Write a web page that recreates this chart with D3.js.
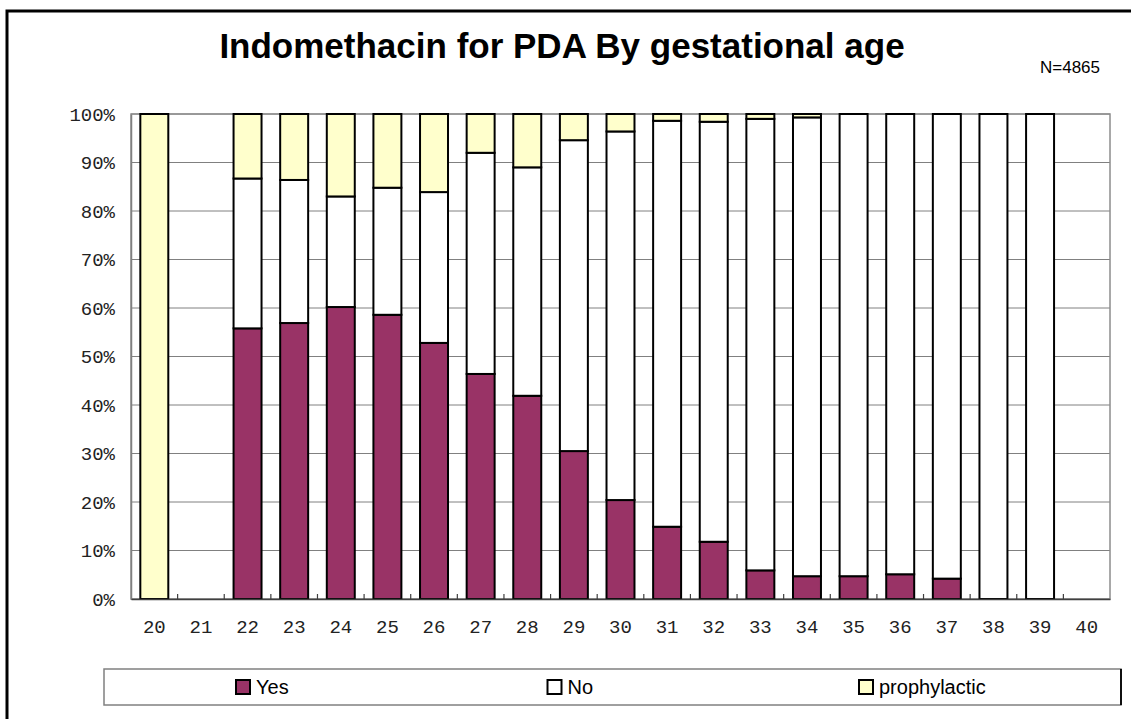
<!DOCTYPE html>
<html>
<head>
<meta charset="utf-8">
<script src="https://cdn.jsdelivr.net/npm/d3@7"></script>
<style>
  body { margin: 0; background: #fff; }
  svg { display: block; }
</style>
</head>
<body>
<svg id="chart" width="1131" height="719"></svg>
<script>
// Gestational age (weeks) on the category axis
const ages = ["20","21","22","23","24","25","26","27","28","29","30",
              "31","32","33","34","35","36","37","38","39","40"];

// Share of infants per outcome, in percent (null = no infants at that age)
const yesPct = [0, null, 55.8, 56.9, 60.2, 58.6, 52.8, 46.4, 41.9, 30.5, 20.4,
                14.9, 11.8, 5.9, 4.7, 4.7, 5.1, 4.2, 0, 0, null];
const noPct = [0, null, 30.9, 29.5, 22.8, 26.2, 31.1, 45.6, 47.1, 64.1, 76.0,
               83.7, 86.6, 93.1, 94.6, 95.3, 94.9, 95.8, 100, 100, null];
const prophylacticPct = [100, null, 13.3, 13.6, 17.0, 15.2, 16.1, 8.0, 11.0, 5.4, 3.6,
                         1.4, 1.6, 1.0, 0.7, 0, 0, 0, 0, 0, null];

const seriesNames = ["Yes", "No", "prophylactic"];
const seriesColors = ["#993366", "#FFFFFF", "#FFFFCC"];
const yTicks = [0, 10, 20, 30, 40, 50, 60, 70, 80, 90, 100];

const titleText = "Indomethacin for PDA By gestational age";
const countText = "N=4865";

// Rows for the stack layout; ages with no data are left out of the bars
const rows = ages.map((age, i) => ({
  age,
  present: yesPct[i] !== null,
  Yes: yesPct[i] || 0,
  No: noPct[i] || 0,
  prophylactic: prophylacticPct[i] || 0
}));

const svg = d3.select("#chart");
const plot = { left: 131, right: 1110, top: 114, bottom: 599 };

const x = d3.scaleBand().domain(ages).range([plot.left, plot.right]).padding(0);
const y = d3.scaleLinear().domain([0, 100]).range([plot.bottom, plot.top]);
const color = d3.scaleOrdinal().domain(seriesNames).range(seriesColors);
const barW = x.bandwidth() * 0.6;

// Outer frame
svg.append("rect")
  .attr("x", 7).attr("y", 11)
  .attr("width", 1200).attr("height", 800)
  .attr("fill", "none").attr("stroke", "#000").attr("stroke-width", 3);

// Title and sample size
svg.append("text")
  .attr("x", 562).attr("y", 58)
  .attr("text-anchor", "middle")
  .attr("font-family", "'Liberation Sans', Arial, sans-serif")
  .attr("font-weight", "bold")
  .attr("font-size", 35)
  .attr("fill", "#000")
  .text(titleText);

svg.append("text")
  .attr("x", 1100).attr("y", 73)
  .attr("text-anchor", "end")
  .attr("font-family", "'Liberation Sans', Arial, sans-serif")
  .attr("font-size", 17)
  .attr("fill", "#000")
  .text(countText);

// Horizontal gridlines
svg.append("g")
  .selectAll("line")
  .data(yTicks)
  .join("line")
  .attr("x1", plot.left).attr("x2", plot.right)
  .attr("y1", d => y(d)).attr("y2", d => y(d))
  .attr("stroke", "#808080").attr("stroke-width", 1);

// Plot area border
svg.append("rect")
  .attr("x", plot.left).attr("y", plot.top)
  .attr("width", plot.right - plot.left).attr("height", plot.bottom - plot.top)
  .attr("fill", "none").attr("stroke", "#8c8c8c").attr("stroke-width", 1.5);

// Stacked bars
const stack = d3.stack().keys(seriesNames);
const layers = stack(rows);

svg.append("g")
  .selectAll("g")
  .data(layers)
  .join("g")
  .attr("fill", d => color(d.key))
  .selectAll("rect")
  .data(d => d.filter(s => s.data.present))
  .join("rect")
  .attr("x", d => x(d.data.age) + (x.bandwidth() - barW) / 2)
  .attr("y", d => y(d[1]))
  .attr("width", barW)
  .attr("height", d => y(d[0]) - y(d[1]))
  .attr("stroke", "#000")
  .attr("stroke-width", 2);

// Y axis
const yAxis = svg.append("g")
  .attr("transform", `translate(${plot.left},0)`)
  .call(d3.axisLeft(y).tickValues(yTicks).tickFormat(d => d + "%").tickSize(0).tickPadding(16));
yAxis.select(".domain").attr("stroke", "#808080").attr("stroke-width", 1.5);
yAxis.selectAll("text")
  .attr("font-family", "'Liberation Mono', 'Courier New', monospace")
  .attr("font-size", 19)
  .attr("fill", "#222");

// X axis
const xAxis = svg.append("g")
  .attr("transform", `translate(0,${plot.bottom})`)
  .call(d3.axisBottom(x).tickSize(0).tickPadding(21));
xAxis.select(".domain").attr("stroke", "#404040").attr("stroke-width", 1.5);
xAxis.selectAll("text")
  .attr("font-family", "'Liberation Mono', 'Courier New', monospace")
  .attr("font-size", 19)
  .attr("fill", "#222");

// Category separators on the x axis
xAxis.append("g")
  .selectAll("line")
  .data(ages.slice(1))
  .join("line")
  .attr("x1", d => x(d)).attr("x2", d => x(d))
  .attr("y1", 0).attr("y2", -5)
  .attr("stroke", "#404040").attr("stroke-width", 1.2);

// Legend
const legend = { left: 104, right: 1121, top: 669, bottom: 705 };
svg.append("rect")
  .attr("x", legend.left).attr("y", legend.top)
  .attr("width", legend.right - legend.left).attr("height", legend.bottom - legend.top)
  .attr("fill", "#fff").attr("stroke", "#808080").attr("stroke-width", 1.5);
svg.append("line")
  .attr("x1", legend.right).attr("x2", legend.right)
  .attr("y1", legend.top).attr("y2", legend.bottom)
  .attr("stroke", "#000").attr("stroke-width", 1.8);

const legendX = d3.scalePoint().domain(seriesNames).range([236, 859]);
const item = svg.append("g")
  .selectAll("g")
  .data(seriesNames)
  .join("g")
  .attr("transform", d => `translate(${legendX(d)},${legend.top + 11})`);
item.append("rect")
  .attr("width", 14).attr("height", 14)
  .attr("fill", d => color(d))
  .attr("stroke", "#000").attr("stroke-width", 2);
item.append("text")
  .attr("x", 20).attr("y", 14)
  .attr("font-family", "'Liberation Sans', Arial, sans-serif")
  .attr("font-size", 20)
  .attr("fill", "#000")
  .text(d => d);
</script>
</body>
</html>
